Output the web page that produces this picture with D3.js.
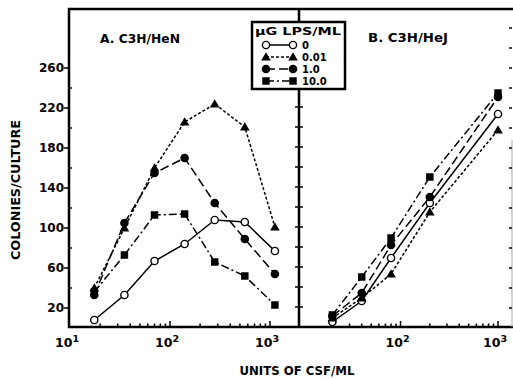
<!DOCTYPE html>
<html>
  <head>
    <meta charset="utf-8">
    <title>CSF colonies</title>
    <style>
      body { margin: 0; background: #fff; }
      svg { display: block; font-family: 'DejaVu Sans', sans-serif; font-weight: bold; }
      .frame { stroke: #000; stroke-width: 2.5; fill: none; }
      .tick { stroke: #000; stroke-width: 1.5; }
      .series { fill: none; stroke: #000; stroke-width: 1.5; }
    </style>
  </head>
  <body>
    <svg width="513" height="379"></svg>
    <script src="https://d3js.org/d3.v7.min.js"></script>
    <script>
      // data
      const doses = ['0', '0.01', '1.0', '10.0'];
      const yTickLabels = [20, 60, 100, 140, 180, 220, 260];

      // panel A: C3H/HeN
      const unitsA = [17.5, 35, 70, 140, 280, 560, 1120];
      const heN0 = [8, 33, 67, 84, 108, 106, 77];
      const heN001 = [40, 100, 160, 206, 224, 201, 101];
      const heN1 = [33, 105, 155, 170, 125, 89, 54];
      const heN10 = [36, 73, 113, 114, 66, 52, 23];

      // panel B: C3H/HeJ
      const unitsB = [20, 40, 80, 200, 1000];
      const heJ0 = [6, 27, 70, 125, 214];
      const heJ001 = [10, 30, 54, 116, 198];
      const heJ1 = [12, 35, 83, 131, 231];
      const heJ10 = [13, 51, 90, 151, 235];

      const svg = d3.select('svg');

      const y = d3.scaleLinear().domain([0, 260]).range([328, 68]);
      const xA = d3.scaleLog().domain([10, 1000]).range([70, 270]);
      const xB = d3.scaleLog().domain([10, 1000]).range([303, 498]);

      const frameTop = 9, frameBottom = 327, frameLeft = 69, mid = 299, frameRight = 512;

      const dash = ['none', '3,2', '9,4', '8,3,2,3'];
      const markers = [
        {type: 'circle', fill: '#fff'},
        {type: 'triangle', fill: '#000'},
        {type: 'circle', fill: '#000'},
        {type: 'square', fill: '#000'}
      ];

      const drawMarker = (g, m, cx, cy) => {
        if (m.type === 'circle') {
          g.append('circle').attr('cx', cx).attr('cy', cy).attr('r', 3.6)
            .attr('fill', m.fill).attr('stroke', '#000').attr('stroke-width', 1.4);
        } else {
          const sym = m.type === 'triangle' ? d3.symbolTriangle : d3.symbolSquare;
          const size = m.type === 'triangle' ? 40 : 56;
          g.append('path').attr('d', d3.symbol().type(sym).size(size)())
            .attr('transform', `translate(${cx},${cy + (m.type === 'triangle' ? 0.8 : 0)})`)
            .attr('fill', m.fill);
        }
      };

      // frame
      svg.append('path').attr('class', 'frame')
        .attr('d', `M${frameLeft},${frameTop}H513M${frameLeft},${frameTop - 1.2}V${frameBottom}H513M${mid},${frameTop}V${frameBottom}`);
      svg.append('line').attr('x1', frameRight).attr('x2', frameRight).attr('y1', 140).attr('y2', frameBottom)
        .attr('stroke', '#aaa').attr('stroke-width', 1);

      // y ticks
      const minorY = d3.range(20, 301, 20);
      minorY.forEach(v => {
        const major = yTickLabels.includes(v);
        if (v <= 260) {
          svg.append('line').attr('class', 'tick')
            .attr('x1', major ? frameLeft - 5 : frameLeft).attr('x2', major ? frameLeft : frameLeft + 3)
            .attr('y1', y(v)).attr('y2', y(v));
        }
        svg.append('line').attr('class', 'tick')
          .attr('x1', mid - 4).attr('x2', mid + 4).attr('y1', y(v) - 1).attr('y2', y(v) - 1);
        svg.append('line').attr('class', 'tick').attr('stroke-width', 1.2)
          .attr('x1', frameRight - 3).attr('x2', frameRight).attr('y1', y(v)).attr('y2', y(v));
      });
      svg.append('g').selectAll('text').data(yTickLabels).join('text')
        .attr('x', frameLeft - 5).attr('y', d => y(d)).attr('dy', '0.36em')
        .attr('text-anchor', 'end').attr('font-size', 12).text(d => d);

      // x ticks
      const xTicks = (x) => {
        for (let dec = 10; dec < 1000; dec *= 10) {
          for (let k = 2; k <= 10; k++) {
            const u = dec * k;
            const major = k === 10;
            svg.append('line').attr('class', 'tick')
              .attr('x1', x(u)).attr('x2', x(u))
              .attr('y1', frameBottom).attr('y2', frameBottom - (major ? 6 : 3.5));
          }
        }
        [10, 100, 1000].forEach((u, i) => {
          if (u === 10 && x === xB) return;
          const t = svg.append('text').attr('x', x(u) - 3).attr('y', 347)
            .attr('text-anchor', 'middle').attr('font-size', 12.5);
          t.append('tspan').text('10');
          t.append('tspan').attr('dy', -5).attr('font-size', 9.5).text(i + 1);
        });
      };
      xTicks(xA);
      xTicks(xB);

      // series
      const panels = [
        {x: xA, units: unitsA, values: [heN0, heN001, heN1, heN10]},
        {x: xB, units: unitsB, values: [heJ0, heJ001, heJ1, heJ10]}
      ];
      panels.forEach(p => {
        const g = svg.append('g');
        p.values.forEach((vals, i) => {
          const pts = vals.map((v, j) => [p.x(p.units[j]), y(v)]);
          g.append('path').attr('class', 'series')
            .attr('stroke-dasharray', dash[i])
            .attr('d', d3.line()(pts));
        });
        p.values.forEach((vals, i) => {
          vals.forEach((v, j) => drawMarker(g, markers[i], p.x(p.units[j]), y(v)));
        });
      });

      // titles
      const stretched = (sel, len) => sel.attr('textLength', len).attr('lengthAdjust', 'spacingAndGlyphs');
      stretched(svg.append('text').attr('x', 100).attr('y', 43).attr('font-size', 12), 80)
        .text('A. C3H/HeN');
      stretched(svg.append('text').attr('x', 368).attr('y', 42).attr('font-size', 12), 80)
        .text('B. C3H/HeJ');
      stretched(svg.append('text').attr('x', 297).attr('y', 375).attr('font-size', 12.5)
        .attr('text-anchor', 'middle'), 115).text('UNITS OF CSF/ML');
      stretched(svg.append('text').attr('transform', 'translate(20,190) rotate(-90)')
        .attr('font-size', 12.5).attr('text-anchor', 'middle'), 140).text('COLONIES/CULTURE');

      // legend
      const lg = svg.append('g');
      lg.append('rect').attr('x', 252).attr('y', 22).attr('width', 93).attr('height', 67)
        .attr('fill', '#fff').attr('stroke', '#000').attr('stroke-width', 2.5);
      stretched(lg.append('text').attr('x', 298).attr('y', 35).attr('font-size', 10.5)
        .attr('text-anchor', 'middle'), 86).text('μG LPS/ML');
      const rowY = [45, 57, 69, 81];
      doses.forEach((d, i) => {
        lg.append('line').attr('class', 'series').attr('stroke-dasharray', dash[i])
          .attr('x1', 266).attr('x2', 293).attr('y1', rowY[i]).attr('y2', rowY[i]);
        drawMarker(lg, markers[i], 266, rowY[i]);
        drawMarker(lg, markers[i], 293, rowY[i]);
        lg.append('text').attr('x', 302).attr('y', rowY[i]).attr('dy', '0.36em')
          .attr('font-size', 10).text(d);
      });
    </script>
  </body>
</html>
